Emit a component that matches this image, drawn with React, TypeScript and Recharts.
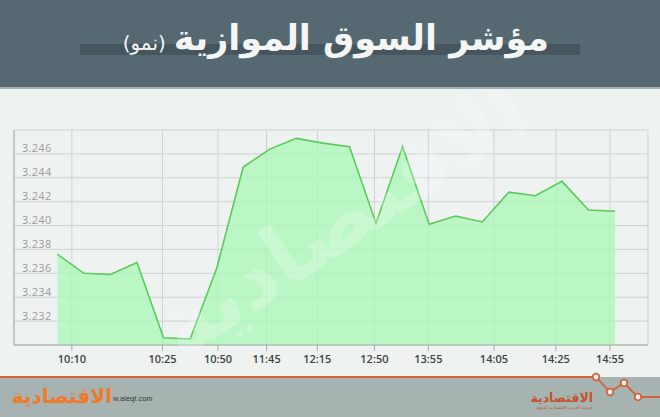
import React from 'react'
import { AreaChart, Area, XAxis, YAxis, CartesianGrid } from 'recharts'

// index values, one per trading snapshot
const seriesValues = [
  3.2376, 3.236, 3.2359, 3.2369, 3.2306, 3.2305, 3.2364, 3.2449, 3.2464, 3.2473, 3.2469,
  3.2466, 3.2402, 3.2466, 3.2401, 3.2408, 3.2403, 3.2428, 3.2425, 3.2437, 3.2413, 3.2412,
]

// tick labels and where they sit along the series (in point units)
const xLabels = ['10:10', '10:25', '10:50', '11:45', '12:15', '12:50', '13:55', '14:05', '14:25', '14:55']
const xTickPos = [0.55, 3.96, 6.05, 7.88, 9.79, 11.94, 13.97, 16.44, 18.77, 20.81]

const yTicks = [3.23, 3.232, 3.234, 3.236, 3.238, 3.24, 3.242, 3.244, 3.246, 3.248]
const yLabeled = ['3.232', '3.234', '3.236', '3.238', '3.240', '3.242', '3.244', '3.246']

const data = seriesValues.map((v, i) => ({ idx: i, value: v }))

const renderYTick = (props: any) => {
  const { x, y, payload } = props
  const label = Number(payload.value).toFixed(3)
  if (!yLabeled.includes(label)) return <g />
  return (
    <text
      x={x + 8}
      y={y - 1.5}
      fill="#9a9d9d"
      fontSize={11}
      fontFamily="'Open Sans', sans-serif"
      letterSpacing={0.3}
      textAnchor="start"
    >
      {label}
    </text>
  )
}

const App = () => {
  return (
    <div
      style={{
        position: 'fixed',
        top: 0,
        left: 0,
        width: 660,
        height: 417,
        background: '#eef2f1',
        overflow: 'hidden',
      }}
    >
      {/* header band */}
      <div style={{ position: 'absolute', top: 0, left: 0, width: 660, height: 87, background: '#566871', zIndex: 4 }} />
      <div style={{ position: 'absolute', top: 87, left: 0, width: 660, height: 2, background: '#9fb0b0', zIndex: 4 }} />
      <div style={{ position: 'absolute', top: 44, left: 80, width: 500, height: 11, background: '#46555e', zIndex: 4 }} />
      <div
        style={{
          position: 'absolute',
          top: 18,
          right: 111,
          direction: 'rtl',
          whiteSpace: 'nowrap',
          color: '#f4f6f6',
          fontFamily: "'DejaVu Sans', sans-serif",
          zIndex: 5,
        }}
      >
        <span style={{ fontSize: 35, fontWeight: 700 }}>مؤشر السوق الموازية</span>
        <span style={{ fontSize: 20, fontWeight: 400, marginRight: 8 }}>(نمو)</span>
      </div>

      {/* faint watermark */}
      <div
        style={{
          position: 'absolute',
          top: 168,
          left: 129,
          fontSize: 85,
          fontWeight: 700,
          fontFamily: "'DejaVu Sans', sans-serif",
          color: '#ffffff',
          opacity: 0.22,
          transform: 'rotate(-34deg)',
          whiteSpace: 'nowrap',
          zIndex: 2,
          pointerEvents: 'none',
        }}
      >
        الاقتصادية
      </div>

      <div style={{ position: 'absolute', top: 0, left: 0, zIndex: 1 }}>
        <AreaChart width={660} height={417} data={data} margin={{ top: 130, right: 12, bottom: 42, left: 13 }}>
          <CartesianGrid stroke="#cdd3d3" strokeWidth={1} />
          <XAxis
            dataKey="idx"
            type="number"
            domain={[-1.63, 22.24]}
            ticks={xTickPos}
            tickFormatter={(v: number, i: number) => xLabels[i]}
            interval={0}
            height={30}
            axisLine={{ stroke: '#a3a9a9' }}
            tickLine={{ stroke: '#a3a9a9' }}
            tickSize={6}
            tickMargin={4}
            tick={{ fill: '#3f4242', fontSize: 11, fontWeight: 600, fontFamily: "'Open Sans', sans-serif" }}
          />
          <YAxis
            type="number"
            domain={[3.23, 3.248]}
            ticks={yTicks}
            interval={0}
            width={1}
            tickSize={0}
            tickMargin={0}
            tickLine={false}
            axisLine={{ stroke: '#a3a9a9' }}
            tick={renderYTick}
            allowDataOverflow
          />
          <Area
            type="linear"
            dataKey="value"
            stroke="#5cc95c"
            strokeWidth={1.6}
            fill="#a8f8b4"
            fillOpacity={0.75}
            isAnimationActive={false}
            dot={false}
            activeDot={false}
          />
        </AreaChart>
      </div>

      {/* footer band */}
      <svg width={660} height={417} style={{ position: 'absolute', top: 0, left: 0, zIndex: 3 }}>
        <rect x={0} y={377} width={660} height={40} fill="#a6b3b1" />
        <polyline
          points="0,377 596,377 610,392 624,383 638,397 660,397"
          fill="none"
          stroke="#d4633d"
          strokeWidth={1.8}
        />
        {[
          [596, 377],
          [610, 392],
          [624, 383],
          [638, 397],
        ].map(([cx, cy], i) => (
          <circle key={i} cx={cx} cy={cy} r={3.3} fill="#eef2f1" stroke="#d4633d" strokeWidth={1.8} />
        ))}
        <text x={113} y={401} fill="#3a3a3a" fontSize={7.5} fontFamily="'Liberation Sans', sans-serif">
          w.aleqt.com
        </text>
        <text
          x={112}
          y={403}
          textAnchor="end"
          fill="#f07a28"
          fontSize={20}
          fontWeight={700}
          fontFamily="'DejaVu Sans', sans-serif"
        >
          الاقتصادية
        </text>
        <text
          x={593}
          y={402}
          textAnchor="end"
          fill="#c5532b"
          fontSize={12.5}
          fontWeight={700}
          fontFamily="'DejaVu Sans', sans-serif"
        >
          الاقتصادية
        </text>
        <text
          x={593}
          y={409}
          textAnchor="end"
          fill="#c5532b"
          fontSize={4.5}
          fontFamily="'DejaVu Sans', sans-serif"
        >
          جريدة العرب الاقتصادية الدولية
        </text>
      </svg>
    </div>
  )
}

export default App
